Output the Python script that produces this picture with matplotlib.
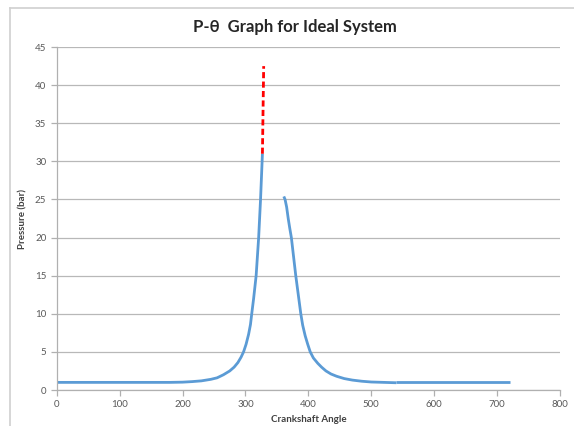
import matplotlib
matplotlib.use('Agg')
import matplotlib.pyplot as plt
from matplotlib.lines import Line2D

plt.rcParams['font.family'] = ['Lato', 'DejaVu Sans']

# courbe de compression (angle en degrés, pression en bar)
theta_comp = [0, 100, 180, 200, 215, 230, 245, 255, 265, 275, 282, 288, 293, 297, 301, 305, 308,
              310, 313, 315, 317, 319, 321, 322.5, 324, 325.5, 327]
p_comp = [1.0, 1.0, 1.0, 1.03, 1.1, 1.2, 1.4, 1.6, 2.0, 2.5, 3.0, 3.6, 4.3, 5.0, 6.0, 7.3, 8.6,
          10, 12, 13.5, 15, 17.5, 20, 22.5, 25, 28, 31]

# combustion (ligne rouge pointillée)
theta_comb = [327, 329]
p_comb = [31, 42.5]

# détente
theta_exp = [361, 363, 365.5, 368, 370.5, 373, 376.5, 380, 384, 388, 391, 395, 399, 403, 408,
             415, 421, 428, 436, 445, 457, 470, 485, 500, 520, 540]
p_exp = [25.4, 25, 24, 22.5, 21.2, 20, 17.5, 15, 12.5, 10, 8.5, 7.1, 6.0, 5.0, 4.2,
         3.5, 3.0, 2.5, 2.1, 1.8, 1.5, 1.3, 1.15, 1.05, 1.0, 0.95]

# échappement / admission
theta_exh = [540, 600, 720]
p_exh = [1.05, 1.05, 1.05]

x_ticks = [0, 100, 200, 300, 400, 500, 600, 700, 800]
y_ticks = [0, 5, 10, 15, 20, 25, 30, 35, 40, 45]

blue = '#5b9bd5'
grey = '#595959'

fig = plt.figure(figsize=(5.74, 4.26), dpi=100)
ax = fig.add_axes([0.0988, 0.0845, 0.8768, 0.805])

ax.plot(theta_comp, p_comp, color=blue, lw=2.0, solid_capstyle='butt', solid_joinstyle='round')
ax.plot(theta_exp, p_exp, color=blue, lw=2.0, solid_capstyle='butt', solid_joinstyle='round')
ax.plot(theta_exh, p_exh, color=blue, lw=2.0, solid_capstyle='butt')
ax.plot(theta_comb, p_comb, color='#ff0000', lw=2.0, dashes=(2.2, 1.2))

ax.set_xlim(0, 800)
ax.set_ylim(0, 45)
ax.set_xticks(x_ticks)
ax.set_yticks(y_ticks)
ax.grid(axis='y', color='#b8b8b8', lw=0.9)
ax.set_axisbelow(True)

for s in ['top', 'right']:
    ax.spines[s].set_visible(False)
for s in ['left', 'bottom']:
    ax.spines[s].set_color('#b0b0b0')
    ax.spines[s].set_linewidth(0.9)

ax.tick_params(axis='both', colors='#b0b0b0', labelcolor=grey, labelsize=7, length=4, width=0.9, direction='out')

ax.set_xlabel('Crankshaft Angle', fontsize=7, fontweight='bold', color='#404040', labelpad=4)
ax.set_ylabel('Pressure (bar)', fontsize=7, fontweight='bold', color='#404040', labelpad=5)

fig.text(0.513, 0.937, 'P-θ  Graph for Ideal System', ha='center', va='center',
         fontsize=12, fontweight='bold', color='#262626')

# cadre du graphique
fig.add_artist(Line2D([10/574, 10/574], [0, 1 - 8/426], color='#d0d0d0', lw=1.2))
fig.add_artist(Line2D([10/574, 1], [1 - 8/426, 1 - 8/426], color='#d0d0d0', lw=1.2))

fig.savefig('out.png', dpi=100)
